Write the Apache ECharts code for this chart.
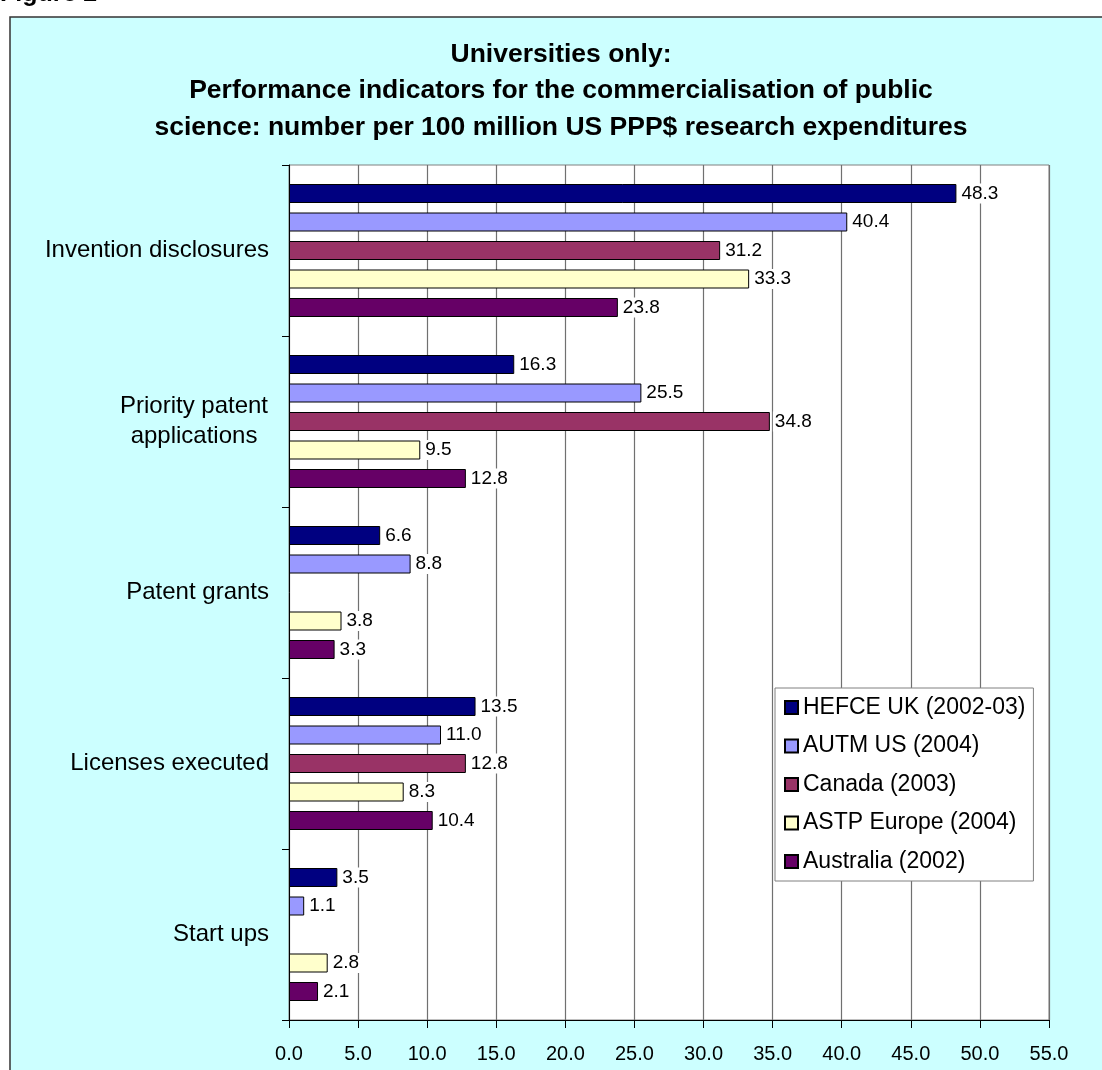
<!DOCTYPE html>
<html>
<head>
<meta charset="utf-8">
<script src="https://cdn.jsdelivr.net/npm/echarts@6/dist/echarts.min.js"></script>
<style>
  html, body { margin: 0; padding: 0; background: #fff; }
  #chart { width: 1102px; height: 1070px; }
</style>
</head>
<body>
<div id="chart"></div>
<script>
// categories (top to bottom)
const categories = ['Invention disclosures', 'Priority patent\napplications', 'Patent grants', 'Licenses executed', 'Start ups'];
const seriesNames = ['HEFCE UK (2002-03)', 'AUTM US (2004)', 'Canada (2003)', 'ASTP Europe (2004)', 'Australia (2002)'];
const seriesColors = ['#000080', '#9999FF', '#993366', '#FFFFCC', '#660066'];
// values per series, in category order
const hefceUK = [48.3, 16.3, 6.6, 13.5, 3.5];
const autmUS = [40.4, 25.5, 8.8, 11.0, 1.1];
const canada = [31.2, 34.8, null, 12.8, null];
const astpEurope = [33.3, 9.5, 3.8, 8.3, 2.8];
const australia = [23.8, 12.8, 3.3, 10.4, 2.1];
const xTicks = ['0.0', '5.0', '10.0', '15.0', '20.0', '25.0', '30.0', '35.0', '40.0', '45.0', '50.0', '55.0'];

const values = [hefceUK, autmUS, canada, astpEurope, australia];
const font = 'Arial, "Liberation Sans", sans-serif';

let myChart = echarts.init(document.getElementById('chart'));

let series = values.map((data, i) => ({
  name: seriesNames[i],
  type: 'bar',
  data: data,
  barWidth: 19,
  barGap: '50%',
  itemStyle: { color: seriesColors[i], borderColor: '#000', borderWidth: 1 },
  label: {
    show: true,
    position: 'right',
    distance: 3,
    formatter: p => (p.value == null ? '' : Number(p.value).toFixed(1)),
    fontFamily: font,
    fontSize: 19,
    color: '#000',
    backgroundColor: '#fff',
    padding: [1, 2, 0, 2]
  }
}));

let option = {
  animation: false,
  backgroundColor: '#fff',
  graphic: [
    {
      type: 'rect',
      z: -10,
      shape: { x: 10, y: 17, width: 1100, height: 1080 },
      style: { fill: '#CCFFFF', stroke: '#333', lineWidth: 1.5 }
    },
    {
      type: 'text',
      left: 0,
      top: -18,
      style: { text: 'Figure 2', font: 'bold 25px ' + font, fill: '#000' }
    }
  ],
  title: {
    text: 'Universities only:\nPerformance indicators for the commercialisation of public\nscience: number per 100 million US PPP$ research expenditures',
    left: 556,
    top: 31,
    textAlign: 'center',
    textStyle: { fontFamily: font, fontSize: 26.5, fontWeight: 'bold', lineHeight: 36.5, color: '#000' }
  },
  legend: {
    orient: 'vertical',
    left: 775,
    top: 688,
    padding: [8, 8, 8, 9],
    itemGap: 15.5,
    itemWidth: 13,
    itemHeight: 13,
    itemTextGap: 9,
    icon: 'rect',
    backgroundColor: '#fff',
    borderColor: '#808080',
    borderWidth: 1,
    textStyle: { fontFamily: font, fontSize: 23, color: '#000' },
    data: seriesNames
  },
  grid: {
    left: 289,
    top: 165,
    width: 760,
    height: 855,
    show: true,
    backgroundColor: '#fff',
    borderColor: '#808080',
    borderWidth: 1,
    containLabel: false
  },
  xAxis: {
    type: 'value',
    min: 0,
    max: 55,
    interval: 5,
    axisLine: { show: true, lineStyle: { color: '#000', width: 1 } },
    axisTick: { show: true, length: 8, lineStyle: { color: '#000' } },
    splitLine: { show: true, lineStyle: { color: '#707070', width: 1.2 } },
    axisLabel: {
      margin: 24,
      fontFamily: font,
      fontSize: 20,
      color: '#000',
      formatter: v => xTicks[Math.round(v / 5)]
    }
  },
  yAxis: {
    type: 'category',
    inverse: true,
    data: categories,
    axisLine: { show: true, lineStyle: { color: '#000', width: 1 } },
    axisTick: { show: true, length: 7, alignWithLabel: false, lineStyle: { color: '#000' } },
    axisLabel: {
      margin: 20,
      fontFamily: font,
      fontSize: 24,
      color: '#000',
      align: 'right',
      formatter: v => v.indexOf('\n') >= 0 ? v.split('\n').map(s => '{c|' + s + '}').join('\n') : v,
      rich: {
        c: { width: 150, align: 'center', fontFamily: font, fontSize: 24, lineHeight: 30, color: '#000' }
      }
    }
  },
  series: series
};

myChart.setOption(option);
</script>
</body>
</html>
